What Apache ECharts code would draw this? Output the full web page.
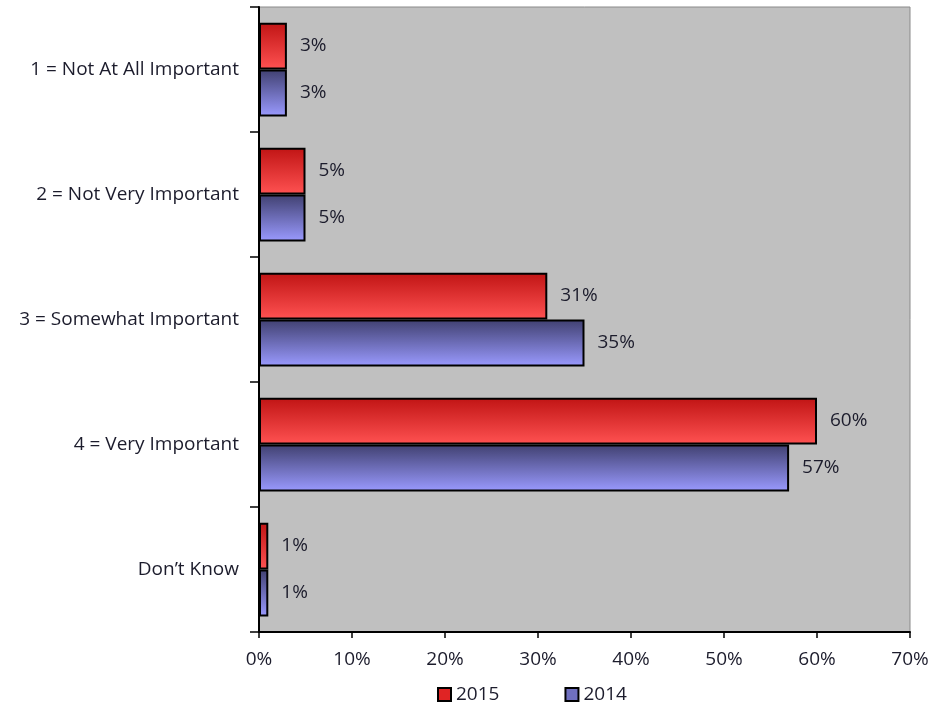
<!DOCTYPE html>
<html><head><meta charset="utf-8">
<script src="https://cdn.jsdelivr.net/npm/echarts@6/dist/echarts.min.js"></script>
<style>html,body{margin:0;padding:0;background:#fff}#c{width:936px;height:708px}</style>
</head><body><div id="c"></div>
<script>
var categories = ["1 = Not At All Important", "2 = Not Very Important", "3 = Somewhat Important", "4 = Very Important", "Don\u2019t Know"];
var values2015 = [3, 5, 31, 60, 1];
var values2014 = [3, 5, 35, 57, 1];
var seriesNames = ["2015", "2014"];
var xTicks = [0, 10, 20, 30, 40, 50, 60, 70];

var FONT = "'Open Sans', 'Noto Sans', sans-serif";
var TXT = '#1c1c2c';
var FS = 19;
function grad(top, bottom) {
  return new echarts.graphic.LinearGradient(0, 0, 0, 1, [{offset: 0, color: top}, {offset: 1, color: bottom}]);
}
var chart = echarts.init(document.getElementById('c'), null, {renderer: 'canvas'});
chart.setOption({
  animation: false,
  backgroundColor: '#ffffff',
  grid: {left: 259, right: 26, top: 7, bottom: 76, show: true, backgroundColor: '#c0c0c0', borderColor: '#8a8a8a', borderWidth: 1},
  legend: {
    top: 685, left: 437, padding: 0, itemGap: 65, itemWidth: 13, itemHeight: 13,
    textStyle: {fontFamily: FONT, fontSize: FS, color: TXT},
    data: [
      {name: seriesNames[0], icon: 'rect', itemStyle: {color: '#e02424', borderColor: '#000', borderWidth: 2}},
      {name: seriesNames[1], icon: 'rect', itemStyle: {color: '#7070c0', borderColor: '#000', borderWidth: 2}}
    ]
  },
  xAxis: {
    type: 'value', min: 0, max: 70, interval: 10,
    axisLine: {show: true, lineStyle: {color: '#000', width: 2}},
    axisTick: {show: true, length: 6, lineStyle: {color: '#000', width: 1.5}},
    splitLine: {show: false},
    axisLabel: {formatter: function (v) { return xTicks.indexOf(v) >= 0 ? v + '%' : ''; }, fontFamily: FONT, fontSize: FS, color: TXT, margin: 18}
  },
  yAxis: {
    type: 'category', data: categories, inverse: true,
    axisLine: {show: true, lineStyle: {color: '#000', width: 2}},
    axisTick: {show: true, length: 9, lineStyle: {color: '#000', width: 1.5}},
    axisLabel: {fontFamily: FONT, fontSize: FS, color: TXT, margin: 20}
  },
  series: [
    {
      name: seriesNames[0], type: 'bar', data: values2015, barCategoryGap: '25%', barGap: '0%',
      itemStyle: {color: grad('#c01414', '#ff5252'), borderColor: '#000', borderWidth: 2},
      label: {show: true, position: 'right', distance: 13, formatter: '{c}%', fontFamily: FONT, fontSize: FS, color: TXT}
    },
    {
      name: seriesNames[1], type: 'bar', data: values2014, barCategoryGap: '25%', barGap: '0%',
      itemStyle: {color: grad('#404070', '#9a9aff'), borderColor: '#000', borderWidth: 2},
      label: {show: true, position: 'right', distance: 13, formatter: '{c}%', fontFamily: FONT, fontSize: FS, color: TXT}
    }
  ]
});
</script></body></html>
